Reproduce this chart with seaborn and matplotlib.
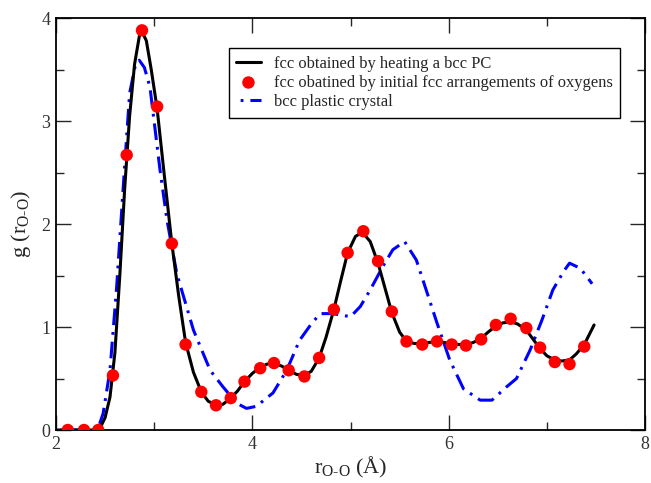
import matplotlib
matplotlib.use("Agg")
import matplotlib.pyplot as plt
import seaborn as sns
import pandas as pd
from matplotlib.ticker import MultipleLocator

# ---- data ----
fcc_heat_r = [2.0, 2.1, 2.2, 2.3, 2.4, 2.45, 2.5, 2.55, 2.6, 2.65, 2.7, 2.75, 2.8, 2.85, 2.88,
              2.92, 2.97, 3.03, 3.1, 3.18, 3.25, 3.32, 3.4, 3.48, 3.55, 3.63, 3.7, 3.78, 3.85,
              3.92, 4.0, 4.08, 4.15, 4.22, 4.3, 4.37, 4.45, 4.53, 4.6, 4.68, 4.75, 4.83, 4.9,
              4.97, 5.05, 5.12, 5.2, 5.28, 5.35, 5.42, 5.5, 5.57, 5.65, 5.73, 5.8, 5.88, 5.95,
              6.03, 6.1, 6.18, 6.25, 6.33, 6.4, 6.48, 6.55, 6.63, 6.7, 6.79, 6.86, 6.93, 7.0,
              7.08, 7.15, 7.23, 7.3, 7.38, 7.48]
fcc_heat_g = [0.0, 0.0, 0.0, 0.0, 0.0, 0.02, 0.12, 0.32, 0.75, 1.5, 2.35, 3.05, 3.55, 3.83, 3.86,
              3.78, 3.5, 3.12, 2.5, 1.81, 1.3, 0.85, 0.56, 0.37, 0.28, 0.24, 0.25, 0.31, 0.38,
              0.47, 0.55, 0.61, 0.64, 0.65, 0.62, 0.58, 0.54, 0.53, 0.57, 0.70, 0.9, 1.17, 1.45,
              1.72, 1.88, 1.92, 1.83, 1.62, 1.38, 1.14, 0.95, 0.86, 0.84, 0.84, 0.85, 0.86, 0.85,
              0.84, 0.83, 0.83, 0.85, 0.89, 0.95, 1.01, 1.04, 1.05, 1.03, 0.97, 0.88, 0.79, 0.72,
              0.68, 0.67, 0.68, 0.74, 0.83, 1.02]

fcc_init_r = [2.12, 2.285, 2.43, 2.58, 2.72, 2.876, 3.03, 3.18, 3.32, 3.48, 3.63, 3.78, 3.92,
              4.08, 4.22, 4.37, 4.53, 4.68, 4.83, 4.97, 5.13, 5.28, 5.42, 5.57, 5.73, 5.88,
              6.03, 6.175, 6.33, 6.48, 6.63, 6.79, 6.93, 7.08, 7.23, 7.38]
fcc_init_g = [0.0, 0.0, 0.0, 0.53, 2.67, 3.88, 3.14, 1.81, 0.83, 0.37, 0.24, 0.31, 0.47,
              0.60, 0.65, 0.58, 0.52, 0.70, 1.17, 1.72, 1.93, 1.64, 1.15, 0.86, 0.83, 0.86,
              0.83, 0.82, 0.88, 1.02, 1.08, 0.99, 0.80, 0.66, 0.64, 0.81]

bcc_r = [2.0, 2.2, 2.4, 2.43, 2.48, 2.55, 2.618, 2.685, 2.75, 2.81, 2.848, 2.9, 2.957, 3.06,
         3.13, 3.23, 3.4, 3.57, 3.7, 3.84, 3.94, 4.04, 4.21, 4.35, 4.48, 4.6, 4.69, 4.82, 5.0,
         5.1, 5.2, 5.33, 5.43, 5.55, 5.67, 5.77, 5.88, 6.01, 6.15, 6.32, 6.44, 6.59, 6.69,
         6.83, 6.95, 7.06, 7.17, 7.23, 7.34, 7.46]
bcc_g = [0.0, 0.0, 0.0, 0.02, 0.16, 0.58, 1.39, 2.36, 3.27, 3.55, 3.59, 3.52, 3.33, 2.52,
         2.04, 1.52, 0.97, 0.58, 0.42, 0.26, 0.21, 0.23, 0.36, 0.58, 0.87, 1.03, 1.13, 1.13, 1.10,
         1.20, 1.36, 1.59, 1.75, 1.83, 1.65, 1.36, 1.04, 0.68, 0.40, 0.29, 0.29, 0.42, 0.50,
         0.78, 1.07, 1.36, 1.54, 1.62, 1.57, 1.42]

labels = ["fcc obtained by heating a bcc PC",
          "fcc obatined by initial fcc arrangements of oxygens",
          "bcc plastic crystal"]
x_ticks = [2, 4, 6, 8]
y_ticks = [0, 1, 2, 3, 4]

# ---- styling ----
sns.set_style("ticks")
plt.rcParams["font.family"] = ["Liberation Serif", "DejaVu Serif"]
plt.rcParams["mathtext.fontset"] = "custom"
plt.rcParams["mathtext.rm"] = "Liberation Serif"
plt.rcParams["mathtext.it"] = "Liberation Serif:italic"
plt.rcParams["lines.scale_dashes"] = False

fig = plt.figure(figsize=(6.51, 4.83), dpi=100)
ax = fig.add_axes([0.086, 0.1097, 0.905, 0.853])

df_heat = pd.DataFrame({"r": fcc_heat_r, "g": fcc_heat_g})
df_init = pd.DataFrame({"r": fcc_init_r, "g": fcc_init_g})
df_bcc = pd.DataFrame({"r": bcc_r, "g": bcc_g})

sns.lineplot(data=df_bcc, x="r", y="g", ax=ax, color="#0000ff", lw=2.2, sort=False,
             estimator=None, dashes=False, label=labels[2], zorder=2)
ax.lines[-1].set_linestyle((14, (12, 5, 2, 5)))
sns.lineplot(data=df_heat, x="r", y="g", ax=ax, color="black", lw=2.2, sort=False,
             estimator=None, label=labels[0], zorder=3)
sns.scatterplot(data=df_init, x="r", y="g", ax=ax, color="#ff0000", s=80, edgecolor="none",
                label=labels[1], zorder=4)

ax.set_xlim(2, 8)
ax.set_ylim(0, 4)
ax.set_xticks(x_ticks)
ax.set_yticks(y_ticks)
ax.xaxis.set_minor_locator(MultipleLocator(1))
ax.yaxis.set_minor_locator(MultipleLocator(0.5))
ax.tick_params(which="both", direction="in", top=True, right=True, width=1,
               labelsize=13, labelcolor="#333333", pad=4)
ax.tick_params(which="major", length=11)
ax.tick_params(which="minor", length=6)
for s in ax.spines.values():
    s.set_linewidth(1.3)
    s.set_color("black")

ax.set_xlabel(r"r$_{\mathrm{O\text{-}O}}$ ($\mathrm{\AA}$)", fontsize=16, labelpad=2)
ax.set_ylabel(r"g (r$_{\mathrm{O\text{-}O}}$)", fontsize=16, labelpad=6)

h, l = ax.get_legend_handles_labels()
hd = {lab: hh for hh, lab in zip(h, l)}
leg = ax.legend([hd[k] for k in labels], labels, loc="upper right",
                bbox_to_anchor=(0.958, 0.927), fontsize=11.9, frameon=True, fancybox=False,
                shadow=False, framealpha=1, edgecolor="black", handlelength=1.5,
                borderpad=0.45, labelspacing=0.2, handletextpad=0.8, borderaxespad=0)
leg.get_frame().set_linewidth(1.0)

fig.savefig("out.png", dpi=100, facecolor="white")
